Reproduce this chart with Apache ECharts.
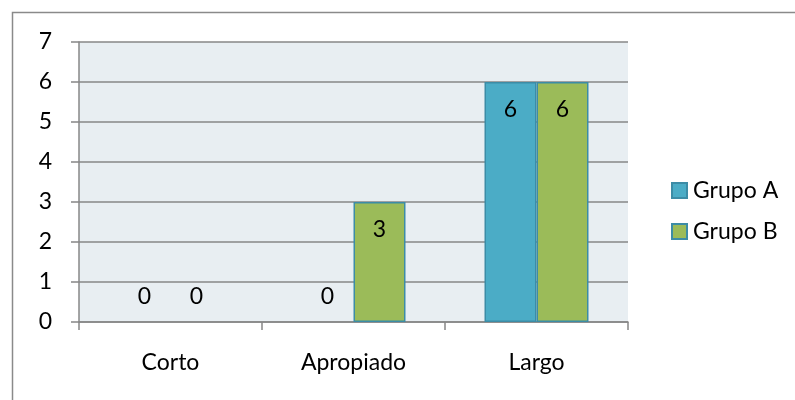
<html>
<head>
<meta charset="utf-8">
<script src="https://cdn.jsdelivr.net/npm/echarts@6/dist/echarts.min.js"></script>
<style>
  html, body { margin: 0; padding: 0; background: #fff; }
  #main { width: 795px; height: 400px; }
</style>
</head>
<body>
<div id="main"></div>
<script>
var categories = ['Corto', 'Apropiado', 'Largo'];
var grupoA = [0, 0, 6];
var grupoB = [0, 3, 6];
var yTicks = [0, 1, 2, 3, 4, 5, 6, 7];

var font = 'Lato, "Open Sans", sans-serif';
var fs = 23;
var borderCol = '#3C8CA6';

// Excel puts the label of an empty bar just above the axis
function toData(values) {
    return values.map(function (v) {
        if (v === 0) {
            return {
                value: v,
                itemStyle: { borderWidth: 0 },
                label: { position: 'top', distance: 14 }
            };
        }
        return v;
    });
}

var myChart = echarts.init(document.getElementById('main'));

var option = {
    animation: false,
    backgroundColor: '#fff',
    // chart frame: runs off the right and bottom of the picture
    graphic: [{
        type: 'rect',
        shape: { x: 12.5, y: 12.5, width: 800, height: 400 },
        style: { fill: 'none', stroke: '#8a8a8a', lineWidth: 1.5 },
        silent: true
    }],
    grid: {
        left: 79,
        right: 167,
        top: 42,
        bottom: 78,
        show: true,
        backgroundColor: '#E8EEF2',
        borderWidth: 0
    },
    legend: {
        orient: 'vertical',
        left: 666,
        top: 174,
        itemWidth: 15,
        itemHeight: 15,
        itemGap: 18,
        icon: 'rect',
        textStyle: { fontFamily: font, fontSize: fs, color: '#000', padding: [0, 0, 0, 1] },
        data: ['Grupo A', 'Grupo B']
    },
    xAxis: {
        type: 'category',
        data: categories,
        axisLine: { lineStyle: { color: '#878787', width: 1.5 } },
        axisTick: { show: true, length: 8, lineStyle: { color: '#878787', width: 1.5 } },
        axisLabel: { fontFamily: font, fontSize: fs, color: '#000', margin: 29 }
    },
    yAxis: {
        type: 'value',
        min: yTicks[0],
        max: yTicks[yTicks.length - 1],
        interval: 1,
        axisLine: { show: true, lineStyle: { color: '#878787', width: 1.5 } },
        axisTick: { show: true, length: 8, lineStyle: { color: '#878787', width: 1.5 } },
        splitLine: { lineStyle: { color: '#878787', width: 1.5 } },
        axisLabel: { fontFamily: font, fontSize: fs, color: '#000', margin: 27 }
    },
    series: [
        {
            name: 'Grupo A',
            type: 'bar',
            data: toData(grupoA),
            barWidth: 52,
            barGap: 0,
            itemStyle: { color: '#4BACC6', borderColor: borderCol, borderWidth: 1.5 },
            label: {
                show: true,
                position: 'insideTop',
                distance: 16,
                fontFamily: font,
                fontSize: fs,
                color: '#000'
            }
        },
        {
            name: 'Grupo B',
            type: 'bar',
            data: toData(grupoB),
            barWidth: 52,
            barGap: 0,
            itemStyle: { color: '#9BBB59', borderColor: borderCol, borderWidth: 1.5 },
            label: {
                show: true,
                position: 'insideTop',
                distance: 16,
                fontFamily: font,
                fontSize: fs,
                color: '#000'
            }
        }
    ]
};

myChart.setOption(option);
</script>
</body>
</html>
